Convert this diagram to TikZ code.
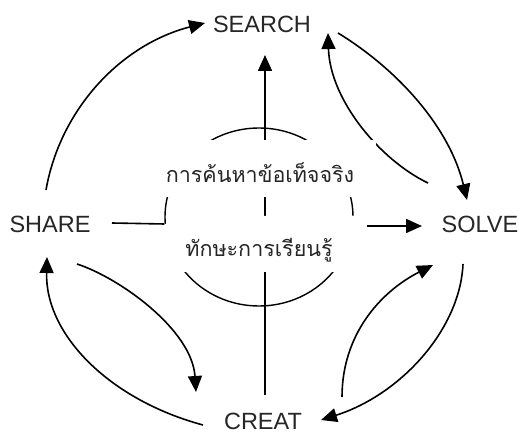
\documentclass[tikz,border=0pt]{standalone}
\usepackage{fontspec}
\setmainfont{Liberation Sans}
\newfontfamily\thaifont[Script=Thai]{Loma}
\usetikzlibrary{arrows.meta,shapes.geometric}
\begin{document}
\begin{tikzpicture}[x=1pt,y=-1pt,
  lbl/.style={font=\fontsize{23.5}{28}\selectfont, inner sep=0pt, text=black!85, text height=17pt, text depth=0pt},
  thai/.style={font=\thaifont\fontsize{21.5}{26}\selectfont, inner sep=0pt, anchor=base, text=black!85},
  conn/.style={line width=1.6pt},
  arr/.style={conn, -{Triangle[length=16pt,width=14pt]}},
  cover/.style={fill=white, draw=none},
]
\useasboundingbox (0,0) rectangle (519,435);

% labels
\node[lbl] (search) at (262,24) {SEARCH};
\node[lbl] (share) at (50,224) {SHARE};
\node[lbl] (solve) at (480,224) {SOLVE};
\node[lbl] (creat) at (263,421) {CREAT};

% central circle
\node[draw, ellipse, line width=1.4pt, inner sep=0pt, minimum width=188pt, minimum height=178pt] (core) at (259,217) {};

% vertical axis
\draw[arr] ([shift={(2,-26)}]creat.center) -- ([shift={(3,31)}]search.center);

% curved connectors
\draw[arr] ([shift={(-4,-34)}]share.center) .. controls +(14,-80) and +(-85,22) .. ([shift={(-57,-1)}]search.center);
\draw[arr] ([shift={(76,9)}]search.center) .. controls +(62,38) and +(-17,-71) .. ([shift={(-13,-24)}]solve.center);
\draw[arr] ([shift={(-52,-41)}]solve.center) .. controls +(-48,-23) and +(2,67) .. ([shift={(66,9)}]search.center);
\draw[arr] ([shift={(-17,40)}]solve.center) .. controls +(-3,66) and +(79,-25) .. ([shift={(58,-1)}]creat.center);
\draw[arr] ([shift={(79,-24)}]creat.center) .. controls +(0,-62) and +(-53,27) .. ([shift={(-47,41)}]solve.center);
\draw[arr] ([shift={(27,40)}]share.center) .. controls +(43,14) and +(-4,-62) .. ([shift={(-67,-29)}]creat.center);
\draw[arr] ([shift={(-60,4)}]creat.center) .. controls +(-93,-25) and +(-2,78) .. ([shift={(-3,33)}]share.center);

% white boxes behind the Thai texts
\fill[cover] (144,140) rectangle (376,197);
\fill[cover] (150,224) -- (262,224) -- (262,216) -- (360,216) -- (360,272) -- (150,272) -- cycle;

% straight connectors at the middle
\draw[conn] ([shift={(62,-1)}]share.center) -- (core.west |- share.center);
\draw[arr] ([shift={(13,9)}]core.east) -- ([shift={(-58,2)}]solve.center);

% Thai texts
\node[thai] (fact) at (260,183) {การค้นหาข้อเท็จจริง};
\node[thai] (skill) at (259,257) {ทักษะการเรียนรู้};
\end{tikzpicture}
\end{document}
